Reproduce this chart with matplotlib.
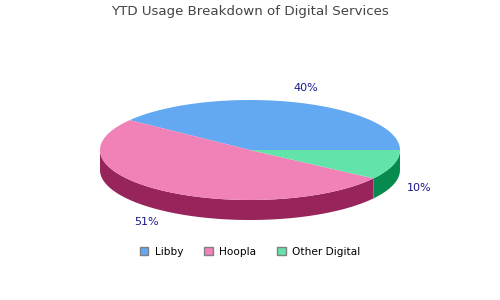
import numpy as np
import matplotlib
matplotlib.use('Agg')
import matplotlib.pyplot as plt
from matplotlib.patches import Polygon, Patch

# --- Data
categories = ['Libby', 'Hoopla', 'Other Digital']
values     = [39.8, 50.6, 9.6]
top_colors  = ['#62a9f2', '#f182b8', '#62e3a9']
side_colors = ['#2a64a8', '#98245c', '#078a4e']
title = 'YTD Usage Breakdown of Digital Services'

# --- Geometry (pixel units)
cx, cy, rx, ry, depth = 250, 150, 150, 50, 20

def pt(t):
    return cx + rx*np.cos(t), cy - ry*np.sin(t)

fig = plt.figure(figsize=(5, 3), dpi=100)
ax = fig.add_axes([0, 0, 1, 1])
ax.set_xlim(0, 500)
ax.set_ylim(300, 0)
ax.axis('off')

frac = np.array(values)/np.sum(values)
edges = np.concatenate([[0], np.cumsum(frac)])*2*np.pi

# sides (front half only: angles between pi and 2pi)
for i in range(len(values)):
    a0, a1 = max(edges[i], np.pi), min(edges[i+1], 2*np.pi)
    if a1 <= a0:
        continue
    t = np.linspace(a0, a1, 100)
    x, y = pt(t)
    xy = np.column_stack([np.concatenate([x, x[::-1]]), np.concatenate([y, y[::-1]+depth])])
    ax.add_patch(Polygon(xy, closed=True, facecolor=side_colors[i], edgecolor='none'))

# tops
for i in range(len(values)):
    t = np.linspace(edges[i], edges[i+1], 200)
    x, y = pt(t)
    xy = np.column_stack([np.concatenate([[cx], x]), np.concatenate([[cy], y])])
    ax.add_patch(Polygon(xy, closed=True, facecolor=top_colors[i], edgecolor='none'))

# labels
for i, v in enumerate(values):
    tm = 0.5*(edges[i]+edges[i+1])
    lx = cx + 1.18*rx*np.cos(tm)
    ly = cy - 1.31*ry*np.sin(tm) + (depth*0.92 if np.sin(tm) < 0 else 0)
    ax.text(lx, ly, '{:.0f}%'.format(v), ha='center', va='center',
            fontsize=8, color='#1a1a8a')

ax.text(250, 11, title, ha='center', va='center', fontsize=9.65, color='#444444')

handles = [Patch(facecolor=c, edgecolor='#808080', linewidth=1) for c in top_colors]
fig.legend(handles, categories, loc='center', bbox_to_anchor=(0.5, 1-252/300), ncol=3,
           frameon=False, fontsize=7.6, handlelength=0.8, handleheight=0.8,
           handletextpad=0.6, columnspacing=2.0)

fig.savefig('out.png', dpi=100)
